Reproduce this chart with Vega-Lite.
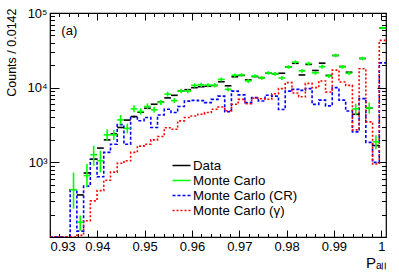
{
  "$schema": "https://vega.github.io/schema/vega-lite/v6.json",
  "width": 336,
  "height": 224,
  "autosize": {"type": "none"},
  "padding": {"left": 50, "top": 13, "right": 13, "bottom": 36},
  "config": {
    "view": {"stroke": "black", "strokeWidth": 1.2},
    "font": "Liberation Sans",
    "axis": {"grid": false, "domain": false, "tickColor": "black", "labelColor": "black", "titleColor": "black", "labelFont": "Liberation Sans", "titleFont": "Liberation Sans", "labelFontSize": 13, "titleFontWeight": "normal", "tickWidth": 1},
    "legend": {"orient": "none", "legendX": 123, "legendY": 144, "padding": 0, "rowPadding": 0, "labelFont": "Liberation Sans", "labelFontSize": 13.3, "labelColor": "black", "labelOffset": 3, "symbolSize": 225, "symbolType": "M-1.2,0H1.2", "symbolStrokeWidth": 1.6, "title": null}
  },
  "datasets": {
    "h": [
      {"lo": 0.93, "hi": 0.93142, "c": 0.93071, "d": null, "m": null, "mlo": null, "mhi": null, "cr": 100, "g": 100},
      {"lo": 0.93142, "hi": 0.93284, "c": 0.93213, "d": null, "m": null, "mlo": null, "mhi": null, "cr": 100, "g": 100},
      {"lo": 0.93284, "hi": 0.93426, "c": 0.93355, "d": null, "m": null, "mlo": null, "mhi": null, "cr": 100, "g": 100},
      {"lo": 0.93426, "hi": 0.93568, "c": 0.93497, "d": null, "m": 430, "mlo": 240, "mhi": 730, "cr": 430, "g": 100},
      {"lo": 0.93568, "hi": 0.9371, "c": 0.93639, "d": 366, "m": 158, "mlo": 122, "mhi": 194, "cr": 120, "g": 105},
      {"lo": 0.9371, "hi": 0.93852, "c": 0.93781, "d": 720, "m": 663, "mlo": 464, "mhi": 950, "cr": 480, "g": 165},
      {"lo": 0.93852, "hi": 0.93994, "c": 0.93923, "d": 1100, "m": 1263, "mlo": 900, "mhi": 1665, "cr": 1100, "g": 305},
      {"lo": 0.93994, "hi": 0.94136, "c": 0.94065, "d": 1552, "m": 1050, "mlo": 735, "mhi": 1430, "cr": 640, "g": 418},
      {"lo": 0.94136, "hi": 0.94278, "c": 0.94207, "d": 2000, "m": 2333, "mlo": 1940, "mhi": 2780, "cr": 1360, "g": 575},
      {"lo": 0.94278, "hi": 0.9442, "c": 0.94349, "d": 2400, "m": 2333, "mlo": 1990, "mhi": 2700, "cr": 1750, "g": 740},
      {"lo": 0.9442, "hi": 0.94562, "c": 0.94491, "d": 2929, "m": 3700, "mlo": 3200, "mhi": 4300, "cr": 3200, "g": 970},
      {"lo": 0.94562, "hi": 0.94704, "c": 0.94633, "d": 3680, "m": 2850, "mlo": 2450, "mhi": 3300, "cr": 1750, "g": 1050},
      {"lo": 0.94704, "hi": 0.94846, "c": 0.94775, "d": 4100, "m": 5200, "mlo": 4700, "mhi": 5800, "cr": 4100, "g": 1360},
      {"lo": 0.94846, "hi": 0.94988, "c": 0.94917, "d": 4700, "m": 4800, "mlo": 4350, "mhi": 5300, "cr": 3600, "g": 1650},
      {"lo": 0.94988, "hi": 0.9513, "c": 0.95059, "d": 5300, "m": 5600, "mlo": 5100, "mhi": 6150, "cr": 3980, "g": 1750},
      {"lo": 0.9513, "hi": 0.95272, "c": 0.95201, "d": 6000, "m": 5050, "mlo": 4600, "mhi": 5550, "cr": 2930, "g": 2000},
      {"lo": 0.95272, "hi": 0.95414, "c": 0.95343, "d": 6400, "m": 6350, "mlo": 5850, "mhi": 6900, "cr": 4300, "g": 2220},
      {"lo": 0.95414, "hi": 0.95556, "c": 0.95485, "d": 7300, "m": 8200, "mlo": 7600, "mhi": 8850, "cr": 5130, "g": 2900},
      {"lo": 0.95556, "hi": 0.95698, "c": 0.95627, "d": 7900, "m": 6700, "mlo": 6200, "mhi": 7250, "cr": 4640, "g": 2780},
      {"lo": 0.95698, "hi": 0.9584, "c": 0.95769, "d": 9000, "m": 9000, "mlo": 8400, "mhi": 9650, "cr": 5600, "g": 3590},
      {"lo": 0.9584, "hi": 0.95982, "c": 0.95911, "d": 9400, "m": 9000, "mlo": 8400, "mhi": 9650, "cr": 6600, "g": 3980},
      {"lo": 0.95982, "hi": 0.96124, "c": 0.96053, "d": 10000, "m": 10740, "mlo": 10050, "mhi": 11450, "cr": 6760, "g": 4180},
      {"lo": 0.96124, "hi": 0.96266, "c": 0.96195, "d": 10300, "m": 10900, "mlo": 10200, "mhi": 11600, "cr": 6700, "g": 4400},
      {"lo": 0.96266, "hi": 0.96408, "c": 0.96337, "d": 10500, "m": 10800, "mlo": 10100, "mhi": 11500, "cr": 6300, "g": 4640},
      {"lo": 0.96408, "hi": 0.9655, "c": 0.96479, "d": 10700, "m": 10740, "mlo": 10050, "mhi": 11450, "cr": 6980, "g": 5130},
      {"lo": 0.9655, "hi": 0.96692, "c": 0.96621, "d": 12000, "m": 12900, "mlo": 12100, "mhi": 13700, "cr": 7700, "g": 5500},
      {"lo": 0.96692, "hi": 0.96834, "c": 0.96763, "d": 10600, "m": 9500, "mlo": 8900, "mhi": 10100, "cr": 4750, "g": 4900},
      {"lo": 0.96834, "hi": 0.96976, "c": 0.96905, "d": 14000, "m": 14650, "mlo": 13800, "mhi": 15500, "cr": 9000, "g": 6000},
      {"lo": 0.96976, "hi": 0.97118, "c": 0.97047, "d": 14600, "m": 14800, "mlo": 13950, "mhi": 15650, "cr": 8000, "g": 6980},
      {"lo": 0.97118, "hi": 0.9726, "c": 0.97189, "d": 12700, "m": 12300, "mlo": 11550, "mhi": 13050, "cr": 6300, "g": 6100},
      {"lo": 0.9726, "hi": 0.97402, "c": 0.97331, "d": 14100, "m": 14300, "mlo": 13450, "mhi": 15150, "cr": 7350, "g": 7200},
      {"lo": 0.97402, "hi": 0.97544, "c": 0.97473, "d": 13600, "m": 13500, "mlo": 12700, "mhi": 14300, "cr": 6630, "g": 7100},
      {"lo": 0.97544, "hi": 0.97686, "c": 0.97615, "d": 15800, "m": 15800, "mlo": 14900, "mhi": 16700, "cr": 7900, "g": 7000},
      {"lo": 0.97686, "hi": 0.97828, "c": 0.97757, "d": 15400, "m": 15300, "mlo": 14400, "mhi": 16200, "cr": 7700, "g": 8300},
      {"lo": 0.97828, "hi": 0.9797, "c": 0.97899, "d": 15600, "m": 13500, "mlo": 12700, "mhi": 14300, "cr": 5100, "g": 9700},
      {"lo": 0.9797, "hi": 0.98112, "c": 0.98041, "d": 19000, "m": 18900, "mlo": 17850, "mhi": 19950, "cr": 9000, "g": 11700},
      {"lo": 0.98112, "hi": 0.98254, "c": 0.98183, "d": 21200, "m": 22050, "mlo": 20850, "mhi": 23250, "cr": 9500, "g": 8500},
      {"lo": 0.98254, "hi": 0.98396, "c": 0.98325, "d": 14800, "m": 16800, "mlo": 15850, "mhi": 17750, "cr": 9200, "g": 7570},
      {"lo": 0.98396, "hi": 0.98538, "c": 0.98467, "d": 20500, "m": 21050, "mlo": 19850, "mhi": 22250, "cr": 9700, "g": 11400},
      {"lo": 0.98538, "hi": 0.9868, "c": 0.98609, "d": 17000, "m": 15800, "mlo": 14900, "mhi": 16700, "cr": 5970, "g": 10000},
      {"lo": 0.9868, "hi": 0.98822, "c": 0.98751, "d": 21300, "m": 19100, "mlo": 18000, "mhi": 20200, "cr": 6800, "g": 12300},
      {"lo": 0.98822, "hi": 0.98964, "c": 0.98893, "d": 14600, "m": 14300, "mlo": 13450, "mhi": 15150, "cr": 5700, "g": 8750},
      {"lo": 0.98964, "hi": 0.99106, "c": 0.99035, "d": 27000, "m": 27000, "mlo": 25500, "mhi": 28500, "cr": 10000, "g": 17200},
      {"lo": 0.99106, "hi": 0.99248, "c": 0.99177, "d": 19200, "m": 19000, "mlo": 17900, "mhi": 20100, "cr": 6800, "g": 11900},
      {"lo": 0.99248, "hi": 0.9939, "c": 0.99319, "d": 16100, "m": 15650, "mlo": 14750, "mhi": 16550, "cr": 4870, "g": 10740},
      {"lo": 0.9939, "hi": 0.99532, "c": 0.99461, "d": 4400, "m": 5200, "mlo": 4300, "mhi": 6100, "cr": 2560, "g": 2720},
      {"lo": 0.99532, "hi": 0.99674, "c": 0.99603, "d": 24600, "m": 24600, "mlo": 23200, "mhi": 26000, "cr": 7130, "g": 17900},
      {"lo": 0.99674, "hi": 0.99816, "c": 0.99745, "d": 5300, "m": 5340, "mlo": 4500, "mhi": 6300, "cr": 1850, "g": 3480},
      {"lo": 0.99816, "hi": 0.99958, "c": 0.99887, "d": 1680, "m": 1880, "mlo": 1500, "mhi": 2310, "cr": 1000, "g": 950},
      {"lo": 0.99958, "hi": 1.001, "c": 1.00029, "d": 63000, "m": 63000, "mlo": 60500, "mhi": 65500, "cr": 21500, "g": 43000},
      {"lo": 1.001, "hi": null, "c": null, "d": null, "m": null, "mlo": null, "mhi": null, "cr": 21500, "g": 43000}
    ],
    "label": [{"text": "(a)"}]
  },
  "data": {"name": "h"},
  "resolve": {"axis": {"x": "independent", "y": "independent"}},
  "layer": [
    {
      "mark": {"type": "line", "interpolate": "step-after", "strokeDash": [3, 2], "strokeWidth": 1.6, "clip": true},
      "encoding": {
        "x": {"field": "lo", "type": "quantitative",
              "scale": {"domain": [0.93, 1.001], "nice": false, "zero": false},
              "axis": {"orient": "bottom", "values": [0.93, 0.94, 0.95, 0.96, 0.97, 0.98, 0.99, 1.0], "format": "~g", "tickSize": -7, "labelPadding": 10, "title": "Pₐₗₗ", "titleFontSize": 15, "titleAnchor": "end", "titleAlign": "right", "titleX": 337, "titleY": 30, "titleBaseline": "alphabetic"}},
        "y": {"field": "cr", "type": "quantitative",
              "scale": {"type": "log", "domain": [100, 100000], "nice": false},
              "axis": {"orient": "left", "values": [1000, 10000, 100000], "labelExpr": "datum.value >= 99999 ? '10⁵' : datum.value >= 9999 ? '10⁴' : '10³'", "tickSize": -9, "labelPadding": 12, "title": "Counts / 0.0142", "titleFontSize": 12.5, "titleAngle": 270, "titleAlign": "right", "titleBaseline": "middle", "titleX": -39, "titleY": -5}},
        "color": {"datum": "Monte Carlo (CR)", "type": "nominal",
                  "scale": {"domain": ["Data", "Monte Carlo", "Monte Carlo (CR)", "Monte Carlo (γ)"], "range": ["#000000", "#00ff00", "#0000ff", "#ff0000"]},
                  "legend": {"encode": {"symbols": {"update": {"strokeDash": {"signal": "datum.value === 'Monte Carlo (CR)' ? [3,2] : datum.value === 'Monte Carlo (γ)' ? [2,2] : [1,0]"}}}}}}
      }
    },
    {
      "mark": {"type": "line", "interpolate": "step-after", "strokeDash": [2, 2], "strokeWidth": 1.6, "clip": true},
      "encoding": {
        "x": {"field": "lo", "type": "quantitative",
              "scale": {"domain": [0.93, 1.001], "nice": false, "zero": false},
              "axis": {"orient": "bottom", "values": [0.932, 0.934, 0.936, 0.938, 0.942, 0.944, 0.946, 0.948, 0.952, 0.954, 0.956, 0.958, 0.962, 0.964, 0.966, 0.968, 0.972, 0.974, 0.976, 0.978, 0.982, 0.984, 0.986, 0.988, 0.992, 0.994, 0.996, 0.998], "tickSize": -3.5, "labels": false, "title": null}},
        "y": {"field": "g", "type": "quantitative",
              "scale": {"type": "log", "domain": [100, 100000], "nice": false},
              "axis": {"orient": "left", "values": [200, 300, 400, 500, 600, 700, 800, 900, 2000, 3000, 4000, 5000, 6000, 7000, 8000, 9000, 20000, 30000, 40000, 50000, 60000, 70000, 80000, 90000], "tickSize": -4.5, "labels": false, "title": null}},
        "color": {"datum": "Monte Carlo (γ)", "type": "nominal"}
      }
    },
    {
      "mark": {"type": "rule", "strokeWidth": 1.6, "clip": true},
      "encoding": {
        "x": {"field": "lo", "type": "quantitative",
              "scale": {"domain": [0.93, 1.001], "nice": false, "zero": false},
              "axis": {"orient": "top", "values": [0.93, 0.94, 0.95, 0.96, 0.97, 0.98, 0.99, 1.0], "tickSize": -7, "labels": false, "title": null}},
        "x2": {"field": "hi"},
        "y": {"field": "d", "type": "quantitative",
              "scale": {"type": "log", "domain": [100, 100000], "nice": false},
              "axis": {"orient": "right", "values": [1000, 10000, 100000], "tickSize": -9, "labels": false, "title": null}},
        "color": {"datum": "Data", "type": "nominal"}
      }
    },
    {
      "mark": {"type": "rule", "strokeWidth": 1.6, "clip": true},
      "encoding": {
        "x": {"field": "lo", "type": "quantitative",
              "scale": {"domain": [0.93, 1.001], "nice": false, "zero": false},
              "axis": {"orient": "top", "values": [0.932, 0.934, 0.936, 0.938, 0.942, 0.944, 0.946, 0.948, 0.952, 0.954, 0.956, 0.958, 0.962, 0.964, 0.966, 0.968, 0.972, 0.974, 0.976, 0.978, 0.982, 0.984, 0.986, 0.988, 0.992, 0.994, 0.996, 0.998], "tickSize": -3.5, "labels": false, "title": null}},
        "x2": {"field": "hi"},
        "y": {"field": "m", "type": "quantitative",
              "scale": {"type": "log", "domain": [100, 100000], "nice": false},
              "axis": {"orient": "right", "values": [200, 300, 400, 500, 600, 700, 800, 900, 2000, 3000, 4000, 5000, 6000, 7000, 8000, 9000, 20000, 30000, 40000, 50000, 60000, 70000, 80000, 90000], "tickSize": -4.5, "labels": false, "title": null}},
        "color": {"datum": "Monte Carlo", "type": "nominal"}
      }
    },
    {
      "mark": {"type": "rule", "strokeWidth": 1.6, "clip": true},
      "encoding": {
        "x": {"field": "c", "type": "quantitative", "scale": {"domain": [0.93, 1.001], "nice": false, "zero": false}, "axis": null},
        "y": {"field": "mlo", "type": "quantitative", "scale": {"type": "log", "domain": [100, 100000], "nice": false}, "axis": null},
        "y2": {"field": "mhi"},
        "color": {"datum": "Monte Carlo", "type": "nominal"}
      }
    },
    {
      "data": {"name": "label"},
      "mark": {"type": "text", "font": "Liberation Sans", "fontSize": 13, "fontWeight": "normal", "align": "left", "baseline": "middle", "color": "black"},
      "encoding": {
        "text": {"field": "text"},
        "x": {"datum": 0.9324, "type": "quantitative", "scale": {"domain": [0.93, 1.001], "nice": false, "zero": false}, "axis": null},
        "y": {"datum": 58000, "type": "quantitative", "scale": {"type": "log", "domain": [100, 100000], "nice": false}, "axis": null}
      }
    }
  ]
}
